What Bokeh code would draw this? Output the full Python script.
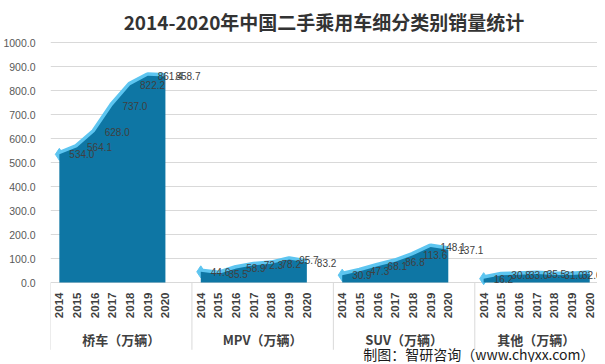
import math
from bokeh.plotting import figure
from bokeh.models import Range1d, FixedTicker, NumeralTickFormatter
from bokeh.core.properties import value
from bokeh.embed import file_html
from bokeh.resources import INLINE

# ---- data ----
years = ["2014", "2015", "2016", "2017", "2018", "2019", "2020"]
categories = ["桥车（万辆）", "MPV（万辆）", "SUV（万辆）", "其他（万辆）"]
sedan = [534.0, 564.1, 628.0, 737.0, 822.2, 861.4, 858.7]
mpv = [44.6, 35.5, 58.9, 72.3, 78.2, 95.7, 83.2]
suv = [30.9, 47.3, 68.1, 86.8, 113.6, 148.1, 137.1]
other = [16.2, 30.8, 33.0, 35.5, 31.0, 32.0, 37.0]
y_ticks = [0, 100, 200, 300, 400, 500, 600, 700, 800, 900, 1000]
caption = "制图：智研咨询（www.chyxx.com）"

series = [sedan, mpv, suv, other]
SLOTS = 8  # 7 years + 1 empty slot per group
AREA = "#0E76A4"
LINE = "#5DC5F0"
TXT = "#404040"
X_END = 30.94        # visible part of the category axis (the chart is cropped at right)
Y_BOTTOM = -333      # extra room below zero for the category labels
Y_TOP = 1012.5

p = figure(width=597, height=362, output_backend="svg", toolbar_location=None,
           x_range=Range1d(0, X_END), y_range=Range1d(Y_BOTTOM, Y_TOP),
           x_axis_location=None,
           min_border_left=40, min_border_right=0, min_border_top=30, min_border_bottom=0)
p.background_fill_color = "white"
p.border_fill_color = "white"
p.outline_line_color = None

p.title.text = "2014-2020年中国二手乘用车细分类别销量统计"
p.title.align = "center"
p.title.offset = -23
p.title.text_font = "Noto Sans CJK SC"
p.title.text_font_size = "19px"
p.title.text_font_style = "bold"
p.title.text_color = "#333333"

# grid
p.xgrid.visible = False
p.ygrid.grid_line_color = "#D9D9D9"

# y axis
ya = p.yaxis[0]
ya.ticker = FixedTicker(ticks=y_ticks)
p.ygrid.ticker = FixedTicker(ticks=y_ticks)
ya.formatter = NumeralTickFormatter(format="0.0")
ya.axis_line_color = None
ya.major_tick_line_color = None
ya.minor_tick_line_color = None
ya.major_label_text_color = "#595959"
ya.major_label_text_font = "Liberation Sans"
ya.major_label_text_font_size = "10.5px"
ya.major_label_standoff = 9

# category dividers
dividers = [g * SLOTS for g in range(len(categories))]
p.segment(x0=dividers, y0=[0] * len(dividers), x1=dividers, y1=[-280] * len(dividers),
          line_color="#D9D9D9", line_width=1)

# glyphs
for g, vals in enumerate(series):
    xs = [g * SLOTS + i + 0.5 for i in range(len(years))]
    p.line(xs, vals, line_width=7, color=LINE)
    p.scatter(xs[:1], vals[:1], marker="diamond", size=12, color=LINE)
    p.varea(x=xs, y1=[0] * len(vals), y2=vals, fill_color=AREA)

for g, vals in enumerate(series):
    xs = [g * SLOTS + i + 0.5 for i in range(len(years))]
    p.text(xs, vals, text=[f"{v:.1f}" for v in vals], x_offset=10,
           text_align="left", text_baseline="middle", text_font_size="10px",
           text_color=TXT, text_font=value("Liberation Sans"))

# year labels (rotated)
yx, yt = [], []
for g in range(len(categories)):
    for i, yr in enumerate(years):
        yx.append(g * SLOTS + i + 0.5)
        yt.append(yr)
p.text(yx, [0] * len(yx), text=yt, angle=math.pi / 2, y_offset=10,
       text_align="right", text_baseline="middle", text_font_size="11.5px",
       text_font_style="bold", text_color=TXT, text_font=value("Liberation Sans"))

# group labels
gpos = [g * SLOTS + SLOTS / 2 for g in range(len(categories))]
gpos[-1] = (dividers[-1] + X_END) / 2  # centred on the visible part
p.text(gpos, [0] * len(gpos), text=categories, y_offset=57,
       text_align="center", text_baseline="middle", text_font_size="13px",
       text_font_style="bold", text_color=TXT, text_font=value("Noto Sans CJK SC"))

# source caption
p.text([X_END], [0], text=[caption], x_offset=-3, y_offset=71,
       text_align="right", text_baseline="middle", text_font_size="14px",
       text_color="#1a1a1a", text_font=value("Noto Sans CJK SC"))

open("out.html", "w").write(file_html(p, INLINE))
